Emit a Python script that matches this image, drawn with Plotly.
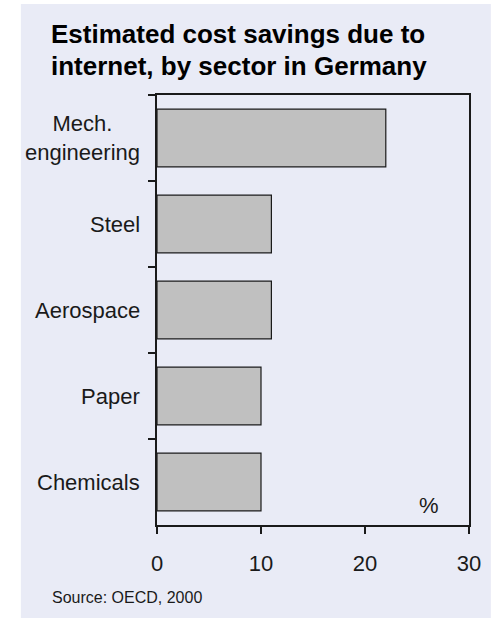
import plotly.graph_objects as go

# Sectors (top to bottom) and estimated cost savings, %
sectors = ["Mech.<br>engineering", "Steel", "Aerospace", "Paper", "Chemicals"]
savings = [22, 11, 11, 10, 10]
x_ticks = [0, 10, 20, 30]

title_lines = ["Estimated cost savings due to", "internet, by sector in Germany"]
source_text = "Source: OECD, 2000"
unit_text = "%"

W, H = 493, 618
ML, MR, MT, MB = 157, 22, 95, 93
PW, PH = W - ML - MR, H - MT - MB

BG = "#e9ebf6"
INK = "#1a1a1a"
FONT = "Liberation Sans, Arial, sans-serif"
LABEL_SIZE = 22


def px_x(p):
    return (p - ML) / PW


def px_y(p):
    return (H - MB - p) / PH


fig = go.Figure(
    go.Bar(
        x=savings,
        y=sectors,
        orientation="h",
        width=0.67,
        marker=dict(color="#c0c0c0", line=dict(color=INK, width=1.2)),
        hoverinfo="skip",
    )
)

fig.update_layout(
    width=W,
    height=H,
    margin=dict(l=ML, r=MR, t=MT, b=MB, pad=0),
    paper_bgcolor="white",
    plot_bgcolor=BG,
    showlegend=False,
    font=dict(family=FONT, color=INK, size=LABEL_SIZE),
    shapes=[
        dict(
            type="rect", xref="paper", yref="paper",
            x0=px_x(20), x1=px_x(W), y0=px_y(H), y1=px_y(4),
            fillcolor=BG, line=dict(width=0), layer="below",
        )
    ],
)

fig.update_xaxes(
    range=[0, 30],
    tickvals=x_ticks,
    ticks="outside",
    ticklen=7,
    tickwidth=2,
    tickcolor=INK,
    showline=True,
    linewidth=2,
    linecolor=INK,
    mirror=True,
    showgrid=False,
    zeroline=False,
    ticklabelstandoff=11,
    tickfont=dict(size=LABEL_SIZE, color=INK),
)

fig.update_yaxes(
    categoryorder="array",
    categoryarray=sectors,
    autorange="reversed",
    ticks="outside",
    tickson="boundaries",
    ticklen=7,
    tickwidth=2,
    tickcolor=INK,
    showline=True,
    linewidth=2,
    linecolor=INK,
    mirror=True,
    showgrid=False,
    zeroline=False,
    showticklabels=False,
)

# Category labels, centred line by line
for name in sectors:
    fig.add_annotation(
        text=name, xref="paper", yref="y", x=0, y=name,
        xanchor="right", yanchor="middle", xshift=-15, align="center",
        showarrow=False, font=dict(size=LABEL_SIZE, color=INK, family=FONT),
    )

# Title, two lines
for i, line in enumerate(title_lines):
    fig.add_annotation(
        text="<b>" + line + "</b>", xref="paper", yref="paper",
        x=px_x(48), y=px_y(33.5 + 32.7 * i), xanchor="left", yanchor="middle",
        showarrow=False, font=dict(size=26, color="black", family=FONT),
    )

# Unit label inside the plot
fig.add_annotation(
    text=unit_text, xref="x", yref="paper", x=26.2, y=px_y(505),
    xanchor="center", yanchor="middle", showarrow=False,
    font=dict(size=LABEL_SIZE, color=INK, family=FONT),
)

# Source note
fig.add_annotation(
    text=source_text, xref="paper", yref="paper", x=px_x(49), y=px_y(597.5),
    xanchor="left", yanchor="middle", showarrow=False,
    font=dict(size=16, color=INK, family=FONT),
)

fig.write_html("out.html")
